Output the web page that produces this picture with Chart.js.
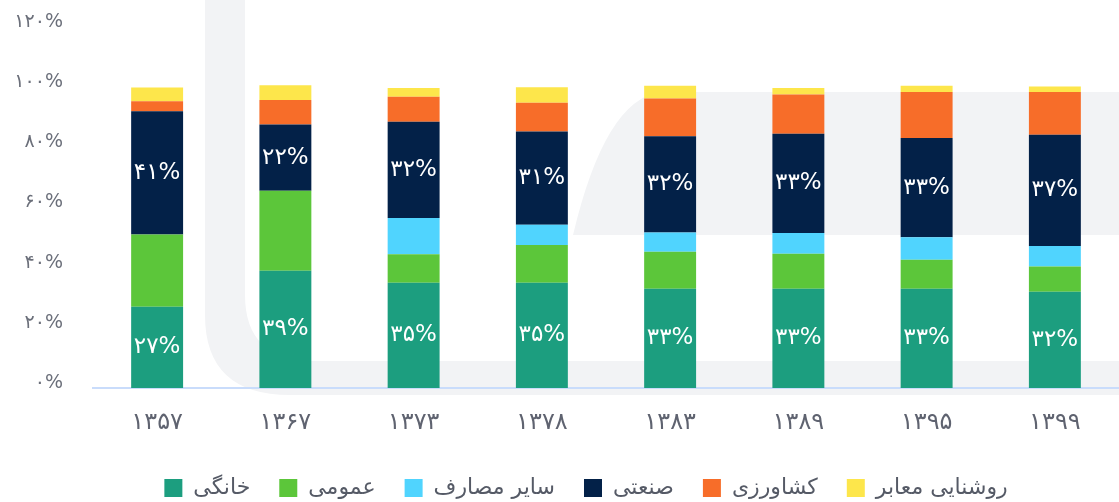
<!DOCTYPE html>
<html>
<head>
<meta charset="utf-8">
<script src="https://cdn.jsdelivr.net/npm/chart.js@4.4.1/dist/chart.umd.min.js"></script>
<style>
  html, body { margin: 0; padding: 0; background: #fff; }
  #wrap { width: 1119px; height: 502px; position: relative; }
</style>
</head>
<body>
<div id="wrap"><canvas id="chart"></canvas></div>
<script>
// years (Persian calendar)
const years = ['۱۳۵۷', '۱۳۶۷', '۱۳۷۳', '۱۳۷۸', '۱۳۸۳', '۱۳۸۹', '۱۳۹۵', '۱۳۹۹']

// share of electricity use per sector, percent
const household = [27, 39, 35, 35, 33, 33, 33, 32]     // خانگی
const publicUse = [24, 26.6, 9.5, 12.5, 12.3, 11.6, 9.6, 8.4] // عمومی
const otherUse = [0, 0, 12, 6.8, 6.4, 6.9, 7.5, 6.8]   // سایر مصارف
const industry = [41, 22, 32, 31, 32, 33, 33, 37]      // صنعتی
const farming = [3.3, 8.1, 8.3, 9.5, 12.5, 13.1, 15.3, 14.2] // کشاورزی
const lighting = [4.6, 4.9, 2.9, 5.2, 4.3, 2.1, 2.1, 1.8]     // روشنایی معابر

const seriesNames = ['خانگی', 'عمومی', 'سایر مصارف', 'صنعتی', 'کشاورزی', 'روشنایی معابر']
const seriesColors = ['#1c9e7f', '#5cc63a', '#50d4fe', '#032148', '#f76d29', '#fde64b']
const labelled = [0, 3] // series with values written inside

const faDigits = '۰۱۲۳۴۵۶۷۸۹'
const toFa = s => String(s).replace(/\d/g, d => faDigits[d])

const FONT = "'DejaVu Sans', sans-serif"

// faint logo shape behind the chart
const watermark = {
	id: 'watermark',
	beforeDraw(chart) {
		const c = chart.ctx
		c.save()
		c.fillStyle = '#f2f3f5'
		c.beginPath()
		c.moveTo(205, 0)
		c.lineTo(205, 315)
		c.quadraticCurveTo(205, 395, 290, 395)
		c.lineTo(1119, 395)
		c.lineTo(1119, 361)
		c.lineTo(315, 361)
		c.quadraticCurveTo(245, 361, 245, 295)
		c.lineTo(245, 0)
		c.closePath()
		c.fill()
		c.beginPath()
		c.moveTo(1119, 92)
		c.lineTo(660, 92)
		c.quadraticCurveTo(605, 100, 573, 235)
		c.lineTo(1119, 235)
		c.closePath()
		c.fill()
		c.restore()
	}
}

// white percent labels in the middle of segments
const segLabels = {
	id: 'segLabels',
	afterInit(chart) {
		// keep the wide item spacing but a short legend box
		const fit = chart.legend.fit
		chart.legend.fit = function () {
			fit.call(this)
			this.height = 54
		}
	},
	afterLayout(chart) {
		chart.legend.left += 53 // legend sits a bit right of centre
	},
	afterDatasetsDraw(chart) {
		const c = chart.ctx
		c.save()
		c.fillStyle = '#ffffff'
		c.font = '23px ' + FONT
		c.textAlign = 'center'
		c.textBaseline = 'middle'
		labelled.forEach(i => {
			const meta = chart.getDatasetMeta(i)
			meta.data.forEach((bar, j) => {
				const v = chart.data.datasets[i].data[j]
				const mid = (bar.y + bar.base) / 2
				c.fillText(toFa(Math.round(v)) + '%', bar.x, mid)
			})
		})
		c.restore()
	}
}

const allData = [household, publicUse, otherUse, industry, farming, lighting]

new Chart(document.getElementById('chart'), {
	type: 'bar',
	data: {
		labels: years,
		datasets: allData.map((d, i) => ({
			label: seriesNames[i],
			data: d,
			backgroundColor: seriesColors[i],
			borderWidth: 0,
			barPercentage: 0.405,
			categoryPercentage: 1
		}))
	},
	plugins: [watermark, segLabels],
	options: {
		responsive: true,
		maintainAspectRatio: false,
		animation: false,
		layout: { padding: { top: 27, right: 0, left: 0, bottom: 0 } },
		plugins: {
			tooltip: { enabled: false },
			legend: {
				position: 'bottom',
				labels: {
					font: { family: FONT, size: 22 },
					color: '#555a66',
					boxWidth: 18,
					boxHeight: 18,
					padding: 29
				}
			}
		},
		scales: {
			x: {
				stacked: true,
				afterFit: s => { s.height = 60 },
				grid: { display: false, drawTicks: false },
				border: { display: true, color: '#c9dcfb', width: 2 },
				ticks: {
					font: { family: FONT, size: 24 },
					color: '#5f6370',
					padding: 20
				}
			},
			y: {
				stacked: true,
				min: 0,
				max: 120,
				afterFit: s => { s.width = 93; s.paddingTop = 0; s.paddingBottom = 0 },
				grid: { display: false, drawTicks: false },
				border: { display: false },
				ticks: {
					stepSize: 20,
					padding: 30,
					labelOffset: -5,
					font: { family: FONT, size: 19 },
					color: '#6b6f7a',
					callback: v => toFa(v) + '%'
				}
			}
		}
	}
})
</script>
</body>
</html>
